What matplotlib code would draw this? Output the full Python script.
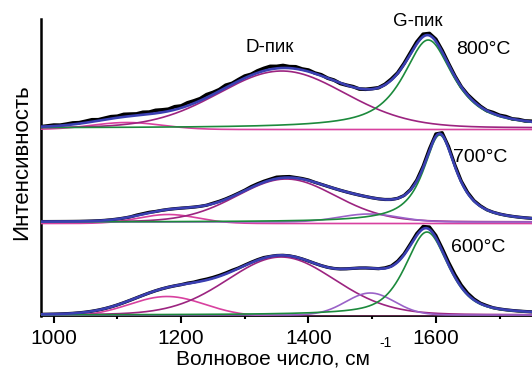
import numpy as np
import matplotlib
matplotlib.use("Agg")
from matplotlib import pyplot as plt

plt.rcParams['font.family'] = ['Liberation Sans', 'DejaVu Sans']

# temperatures, bottom to top
temps = ["600°C", "700°C", "800°C"]
offsets = [1, 94, 188]

# fitted peaks for each spectrum: centre, height, half width, lorentz fraction
# order: pink (~1180), D (~1360), violet (~1500), G (~1590)
centres = [
    [1178, 1357, 1497, 1586],
    [1180, 1365, 1495, 1606],
    [1115, 1358, 1500, 1588],
]
heights = [
    [20, 58, 22, 83],
    [9, 43, 8, 87],
    [7, 57, 0, 88],
]
widths = [
    [70, 100, 45, 40],
    [55, 92, 55, 31],
    [65, 118, 50, 47],
]
lorentz = [
    [0.0, 0.1, 0.0, 0.6],
    [0.0, 0.1, 0.0, 0.9],
    [0.0, 0.1, 0.0, 0.85],
]
peak_colors = ["#d8419f", "#9c2480", "#9a62c8", "#1c8a3c"]

# measured spectra: deviation from the fit, every 10 cm-1 from 980 to 1760
meas_x = np.arange(980, 1761, 10)
resid = [
    [0] * 12
    + [0] * 10
    + [0, 0.5, 0.5, 1, 1, 1, 1, 1, 1, 0.5]
    + [0.5, 0.5, 0.5, 0.5, 0, 0, 0, 0, 0, 0]
    + [0] * 10
    + [0, 0, 0.5, 0.5, 1, 1, 1.5, 2, 2.5, 2.5]
    + [2.5, 2.5, 2.5, 2.5, 2, 1.5, 1, 0.5, 0.5, 0]
    + [0] * 7,
    [0] * 12
    + [0, 0, 0, 0.5, 0.5, 0.5, 0, 0, 0, 0]
    + [0, 0, 0, 0, 0, 0.5, 0.5, 0.5, 0.5, 0.5]
    + [0.5, 1, 1, 1, 1, 1.5, 1, 1, 0.5, 0.5]
    + [0.5, 0, 0, 0, 0, 0, 0, 0, 0, 0]
    + [0, 0, 0, 0, 0, 0, 0.5, 1, 1.5, 2]
    + [2.5, 2.5, 2, 1.5, 1, 1, 0.5, 0.5, 0, 0]
    + [0] * 7,
    [0, 0.5, 1, 0.5, 1, 1.5, 1, 1.5, 2, 1, 1.5, 2]
    + [1.5, 2.5, 2, 1.5, 2.5, 2, 3, 2.5, 2, 3]
    + [2, 3, 2.5, 2, 3, 2, 1.5, 2.5, 1, 1.5]
    + [2, 1, 2, 2.5, 3, 2, 2.5, 1.5, 2, 1]
    + [1.5, 0.5, 1, 0, 0.5, -0.5, 0, 0.5, -0.5, 0]
    + [0.5, 0, 0.5, 1, 0.5, 1, 1.5, 2, 2.5, 2]
    + [2, 1.5, 1, 0.5, 0, 0.5, 1, 0.5, 0, 1]
    + [0.5, 1, 0, 0.5, 0, 0.5, 0],
]


def peak(x, c, h, w, eta):
    gauss = np.exp(-np.log(2) * ((x - c) / w) ** 2)
    lor = 1 / (1 + ((x - c) / w) ** 2)
    return h * ((1 - eta) * gauss + eta * lor)


def fit_sum(x, i):
    total = np.zeros_like(x, dtype=float)
    for j in range(4):
        total += peak(x, centres[i][j], heights[i][j], widths[i][j], lorentz[i][j])
    return total


fig = plt.figure(figsize=(5.32, 3.72), dpi=100)
ax = fig.add_axes([41 / 532, 1 - 316 / 372, 1 - 41 / 532, 297 / 372])

xf = np.linspace(975, 1760, 800)
for i in range(3):
    base = offsets[i]
    ymeas = base + fit_sum(meas_x.astype(float), i) + np.array(resid[i])
    ax.plot(meas_x, ymeas, color="black", lw=2.6 if i == 2 else 2.3, zorder=2)
    for j in range(4):
        if heights[i][j] == 0:
            continue
        yb = base - 1.5 if j == 0 else base
        ax.plot(xf, yb + peak(xf, centres[i][j], heights[i][j], widths[i][j], lorentz[i][j]),
                color=peak_colors[j], lw=1.2, zorder=3)
    ax.plot(xf, base + fit_sum(xf, i), color="#3a3fb2", lw=1.9, zorder=4)

ax.set_xlim(980, 1751)
ax.set_ylim(0, 297)
ax.set_yticks([])
ax.set_xticks([1000, 1200, 1400, 1600])
ax.set_xticks([1100, 1300, 1500, 1700], minor=True)
ax.tick_params(axis="x", which="major", length=5, width=1.5, labelsize=15, pad=4)
ax.tick_params(axis="x", which="minor", length=2.5, width=1.5)
for s in ["top", "right"]:
    ax.spines[s].set_visible(False)
ax.spines["left"].set_linewidth(1.8)
ax.spines["bottom"].set_linewidth(1.3)

ax.text(1339, 269, "D-пик", fontsize=13.5, ha="center", va="center")
ax.text(1572, 294, "G-пик", fontsize=13.5, ha="center", va="center", clip_on=False)
for i, t in enumerate(temps):
    ax.text([1666, 1669, 1674][i], [68, 158, 266][i], t, fontsize=14,
            ha="center", va="center")

fig.text(273 / 532, 1 - 359 / 372, "Волновое число, см", fontsize=15,
         ha="center", va="center")
fig.text(386 / 532, 1 - 343 / 372, "-1", fontsize=10, ha="center", va="center")
fig.text(22 / 532, 1 - 162 / 372, "Интенсивность", fontsize=16, rotation=90,
         ha="center", va="center")

fig.savefig("out.png", dpi=100)
